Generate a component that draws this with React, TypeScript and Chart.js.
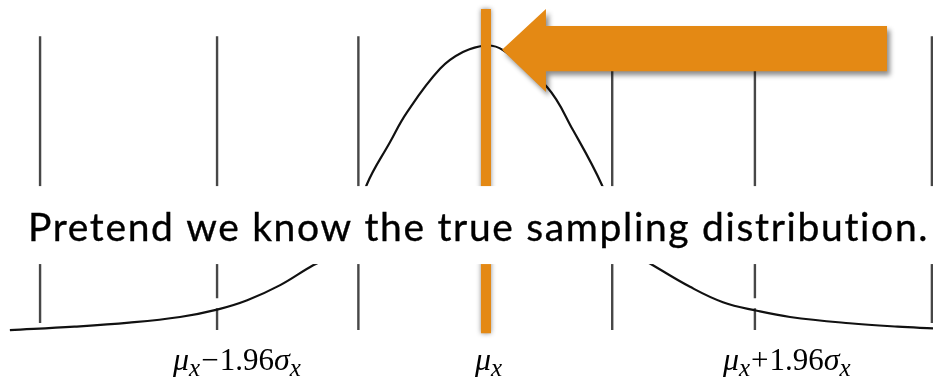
import { useEffect, useRef } from "react";
import { Chart, registerables } from "chart.js";

Chart.register(...registerables);

// x in units of sigma (mu = 0), y = relative density (peak = 1)
const CURVE_Z = [-3.47, -3.0, -2.6, -2.23, -1.96, -1.74, -1.5, -1.26, -1.028, -0.87, -0.7, -0.576, -0.335, -0.168, 0, 0.124, 0.445, 0.634, 0.845, 1.028, 1.217, 1.487, 1.727, 1.975, 2.216, 2.65, 3.0, 3.258];
const CURVE_H = [0, 0.012, 0.026, 0.046, 0.072, 0.105, 0.158, 0.228, 0.285, 0.51, 0.66, 0.765, 0.918, 0.977, 1, 0.984, 0.854, 0.703, 0.51, 0.285, 0.228, 0.152, 0.098, 0.068, 0.046, 0.024, 0.012, 0.006];

const LINE_Z = [-3.25, -1.96, -0.93, 0.92, 1.96, 3.25];
const LINE_BOTTOM = [0.025, 0, 0, 0, 0, 0.025];
const LINE_TOP = 1.033;
const GAP_LINES = [-1.96, 1.96];
const GAP_HI = 0.112;
const GAP_LO = 0.077;

const MU_Z = 0;
const MU_TOP = 1.128;
const MU_BOTTOM = -0.011;

const LABEL_Z = [-1.96, 0, 1.96];
const LABEL_SIGN = ["\u2212", "", "+"];
const LABEL_SHIFT = [-44, -11, -32];
const LABEL_BASE_H = -0.141;

const TITLE = "Pretend we know the true sampling distribution.";
const TITLE_Z = -3.338;
const TITLE_BASE_H = 0.313;
const BAND_TOP_H = 0.506;
const BAND_BOTTOM_H = 0.232;

const ARROW_TIP = { z: 0.117, h: 0.985 };
const ARROW_HEAD_Z = 0.437;
const ARROW_HEAD_TOP = 1.128;
const ARROW_HEAD_BOTTOM = 0.837;
const ARROW_BODY_TOP = 1.069;
const ARROW_BODY_BOTTOM = 0.91;
const ARROW_END_Z = 2.923;

const ORANGE = "#E48914";

export default function App() {
  const ref = useRef<HTMLCanvasElement>(null);

  useEffect(() => {
    const canvas = ref.current!;
    const datasets: any[] = [];

    LINE_Z.forEach((z, i) => {
      const pts = GAP_LINES.includes(z)
        ? [
            { x: z, y: LINE_TOP },
            { x: z, y: GAP_HI },
            { x: z, y: null },
            { x: z, y: GAP_LO },
            { x: z, y: LINE_BOTTOM[i] },
          ]
        : [
            { x: z, y: LINE_TOP },
            { x: z, y: LINE_BOTTOM[i] },
          ];
      datasets.push({
        data: pts,
        borderColor: "#474747",
        borderWidth: 2.4,
        pointRadius: 0,
        spanGaps: false,
        tension: 0,
        order: 3,
      });
    });

    datasets.push({
      data: CURVE_Z.map((z, i) => ({ x: z, y: CURVE_H[i] })),
      borderColor: "#111111",
      borderWidth: 2.2,
      pointRadius: 0,
      tension: 0.4,
      order: 2,
    });

    const orangeIndex = datasets.length;
    datasets.push({
      data: [
        { x: MU_Z, y: MU_TOP },
        { x: MU_Z, y: MU_BOTTOM },
      ],
      borderColor: ORANGE,
      borderWidth: 10,
      borderCapStyle: "butt",
      pointRadius: 0,
      order: 1,
    });

    const overlay = {
      id: "overlay",
      beforeDatasetDraw(chart: any, args: any) {
        if (args.index === orangeIndex) {
          const ctx = chart.ctx;
          ctx.save();
          ctx.shadowColor = "rgba(0,0,0,0.45)";
          ctx.shadowBlur = 5;
        }
      },
      afterDatasetDraw(chart: any, args: any) {
        if (args.index === orangeIndex) chart.ctx.restore();
      },
      afterDatasetsDraw(chart: any) {
        const ctx = chart.ctx as CanvasRenderingContext2D;
        const xs = chart.scales.x;
        const ys = chart.scales.y;
        const X = (v: number) => xs.getPixelForValue(v);
        const Y = (v: number) => ys.getPixelForValue(v);

        // arrow
        ctx.save();
        ctx.shadowColor = "rgba(0,0,0,0.45)";
        ctx.shadowBlur = 5;
        ctx.shadowOffsetX = 3;
        ctx.shadowOffsetY = 4;
        ctx.fillStyle = ORANGE;
        ctx.beginPath();
        ctx.moveTo(X(ARROW_TIP.z), Y(ARROW_TIP.h));
        ctx.lineTo(X(ARROW_HEAD_Z), Y(ARROW_HEAD_TOP));
        ctx.lineTo(X(ARROW_HEAD_Z), Y(ARROW_BODY_TOP));
        ctx.lineTo(X(ARROW_END_Z), Y(ARROW_BODY_TOP));
        ctx.lineTo(X(ARROW_END_Z), Y(ARROW_BODY_BOTTOM));
        ctx.lineTo(X(ARROW_HEAD_Z), Y(ARROW_BODY_BOTTOM));
        ctx.lineTo(X(ARROW_HEAD_Z), Y(ARROW_HEAD_BOTTOM));
        ctx.closePath();
        ctx.fill();
        ctx.restore();

        // white band with title
        ctx.save();
        ctx.fillStyle = "#ffffff";
        const bt = Y(BAND_TOP_H);
        const bb = Y(BAND_BOTTOM_H);
        ctx.fillRect(chart.chartArea.left, bt, chart.chartArea.right - chart.chartArea.left, bb - bt);
        ctx.fillStyle = "#000000";
        ctx.strokeStyle = "#000000";
        ctx.lineWidth = 0.35;
        ctx.font = "39px Lato";
        ctx.textBaseline = "alphabetic";
        ctx.textAlign = "left";
        const target = 900;
        const w = ctx.measureText(TITLE).width;
        const sp = (target - w) / (TITLE.length - 1);
        (ctx as any).letterSpacing = sp.toFixed(2) + "px";
        ctx.fillText(TITLE, X(TITLE_Z), Y(TITLE_BASE_H));
        ctx.strokeText(TITLE, X(TITLE_Z), Y(TITLE_BASE_H));
        ctx.restore();

        // math labels
        ctx.save();
        ctx.fillStyle = "#000000";
        ctx.textBaseline = "alphabetic";
        ctx.textAlign = "left";
        const base = Y(LABEL_BASE_H);
        const mainIt = "italic 32px 'Liberation Serif'";
        const mainUp = "31px 'Liberation Serif'";
        const subIt = "italic 25px 'Liberation Serif'";
        LABEL_Z.forEach((z, i) => {
          let x = X(z) + LABEL_SHIFT[i];
          const piece = (t: string, font: string, dy: number) => {
            ctx.font = font;
            ctx.fillText(t, x, base + dy);
            x += ctx.measureText(t).width;
          };
          piece("\u03BC", mainIt, 0);
          piece("x", subIt, 6);
          if (LABEL_SIGN[i]) {
            x += 1;
            piece(LABEL_SIGN[i], mainUp, 0);
            x += 1;
            piece("1.96", mainUp, 0);
            piece("\u03C3", mainIt, 0);
            piece("x", subIt, 6);
          }
        });
        ctx.restore();
      },
    };

    const chart = new Chart(canvas, {
      type: "line",
      data: { datasets },
      options: {
        animation: false,
        responsive: false,
        devicePixelRatio: 1,
        events: [],
        layout: { padding: 0 },
        plugins: { legend: { display: false }, tooltip: { enabled: false } },
        scales: {
          x: { type: "linear", min: -3.542, max: 3.258, display: false },
          y: { type: "linear", min: -0.179, max: 1.16, display: false },
        },
      },
      plugins: [overlay],
    } as any);

    return () => chart.destroy();
  }, []);

  return (
    <div style={{ position: "fixed", left: 0, top: 0, width: 933, height: 381, background: "#fff" }}>
      <canvas ref={ref} width={933} height={381} style={{ display: "block" }} />
    </div>
  );
}
